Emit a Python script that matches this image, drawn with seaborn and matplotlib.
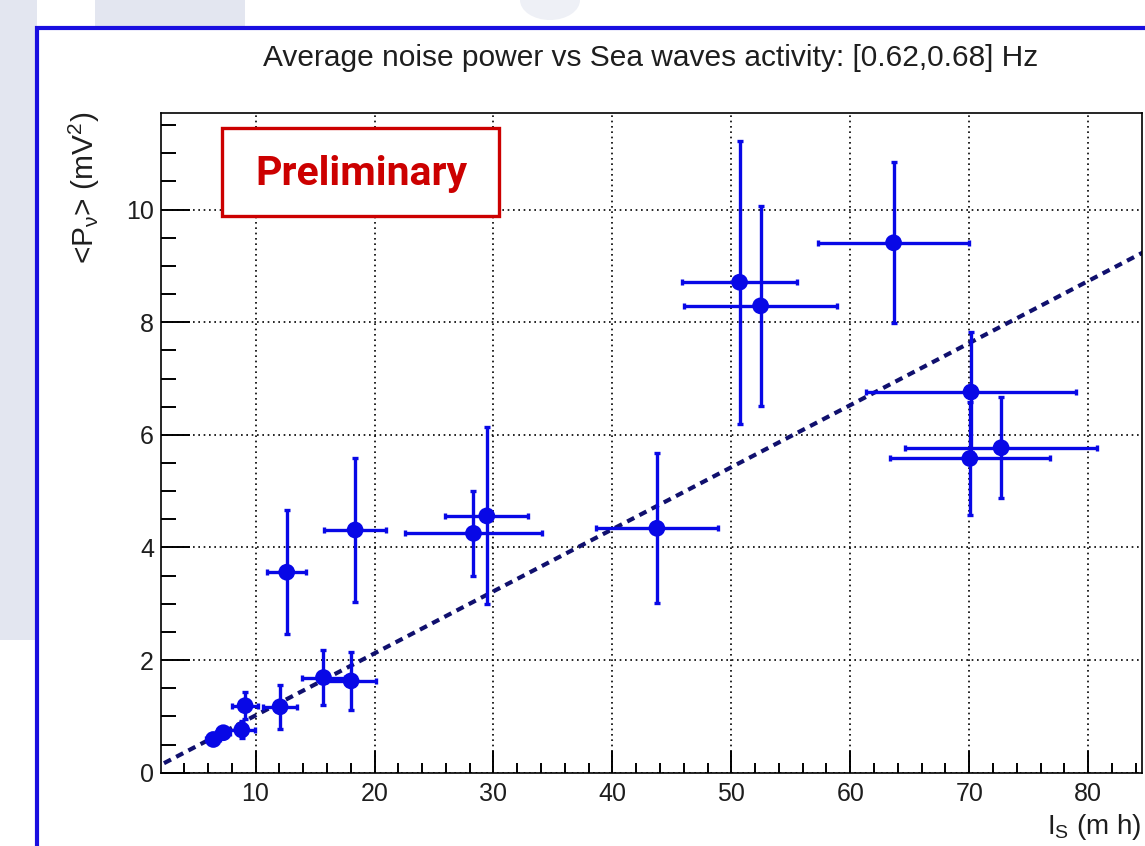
import numpy as np
import matplotlib
matplotlib.use('Agg')
import matplotlib.pyplot as plt
import seaborn as sns
from matplotlib.patches import Rectangle, Ellipse
from matplotlib.ticker import MultipleLocator

# ------------------------------------------------------------
# Data
# ------------------------------------------------------------
sea_activity = [6.45, 7.29, 8.84, 9.12, 12.06, 15.71, 18.03, 12.62, 18.37,
                28.32, 29.44, 43.74, 50.69, 52.46, 63.64, 70.15, 72.68, 70.05]
noise_power = [0.59, 0.71, 0.76, 1.19, 1.17, 1.69, 1.63, 3.56, 4.31,
               4.25, 4.56, 4.34, 8.71, 8.29, 9.41, 6.76, 5.77, 5.58]
sea_activity_err = [0.6, 0.6, 1.1, 1.12, 1.43, 1.83, 2.1, 1.65, 2.6,
                    5.72, 3.5, 5.1, 4.84, 6.45, 6.36, 8.8, 8.1, 6.7]
noise_power_err = [0.08, 0.1, 0.15, 0.24, 0.39, 0.49, 0.52, 1.1, 1.28,
                   0.75, 1.57, 1.33, 2.51, 1.78, 1.43, 1.07, 0.9, 1.0]

# linear fit shown as dashed line
fit_slope = 0.1102
fit_intercept = -0.085
fit_range = [2.3, 85.0]

title = 'Average noise power vs Sea waves activity: [0.62,0.68] Hz'

# ------------------------------------------------------------
# Style
# ------------------------------------------------------------
sns.set_theme(style='white')
plt.rcParams['font.family'] = ['Liberation Sans', 'DejaVu Sans']
plt.rcParams['mathtext.fontset'] = 'custom'
plt.rcParams['mathtext.rm'] = 'Liberation Sans'
plt.rcParams['mathtext.it'] = 'Liberation Sans'

W, H = 1145, 846
fig = plt.figure(figsize=(W / 100, H / 100), dpi=100)
fig.patch.set_facecolor('white')

# faded logo shapes behind the slide frame
wm = '#e3e6f0'
fig.add_artist(Rectangle((0, 1 - 640 / H), 37 / W, 640 / H, transform=fig.transFigure,
                         facecolor=wm, edgecolor='none', zorder=-3))
fig.add_artist(Rectangle((95 / W, 1 - 28 / H), 150 / W, 28 / H, transform=fig.transFigure,
                         facecolor=wm, edgecolor='none', zorder=-3))
fig.add_artist(Ellipse((550 / W, 1.0), 60 / W, 40 / H, transform=fig.transFigure,
                       facecolor='#eef0f6', edgecolor='none', zorder=-3))

# blue slide frame
fig.add_artist(Rectangle((37 / W, -0.05), 1.2, 1.05 - 28 / H, transform=fig.transFigure,
                         facecolor='white', edgecolor='#1a0fe0', linewidth=3.0, zorder=-2))

ax = fig.add_axes([161 / W, 1 - 772.7 / H, (1141.7 - 161) / W, (772.7 - 112.7) / H])
ax.set_facecolor('white')

# grid
ax.grid(True, which='major', color='black', linestyle=(0, (1, 2.2)), linewidth=1.2)
ax.set_axisbelow(True)

# fit line
fit_x = np.array(fit_range)
sns.lineplot(x=fit_x, y=fit_slope * fit_x + fit_intercept, ax=ax, color='#10106e',
             linewidth=3.0, dashes=False, zorder=2)
ax.lines[-1].set_dashes((1.9, 1.4))

# error bars and markers
ax.errorbar(sea_activity, noise_power, xerr=sea_activity_err, yerr=noise_power_err,
            fmt='none', ecolor='#0808e6', elinewidth=2.4, capsize=2.4, capthick=2.4, zorder=3)
sns.scatterplot(x=sea_activity, y=noise_power, ax=ax, color='#0808e6', s=145,
                edgecolor='none', zorder=4)

ax.set_xlim(2.05, 84.5)
ax.set_ylim(0, 11.72)
ax.xaxis.set_major_locator(MultipleLocator(10))
ax.xaxis.set_minor_locator(MultipleLocator(2))
ax.yaxis.set_major_locator(MultipleLocator(2))
ax.yaxis.set_minor_locator(MultipleLocator(0.5))

for s in ax.spines.values():
    s.set_color('black')
    s.set_linewidth(1.2)

ax.tick_params(axis='x', which='major', direction='in', length=16, width=1.4,
               color='black', labelsize=18, pad=7, bottom=True, top=False)
ax.tick_params(axis='x', which='minor', direction='in', length=7, width=1.4,
               color='black', bottom=True, top=False)
ax.tick_params(axis='y', which='major', direction='in', length=21, width=1.4,
               color='black', labelsize=18, pad=5, left=True, right=False)
ax.tick_params(axis='y', which='minor', direction='in', length=10.5, width=1.4,
               color='black', left=True, right=False)
for lab in ax.get_xticklabels() + ax.get_yticklabels():
    lab.set_color('#1e1e1e')

ax.set_xlabel('')
ax.set_ylabel('')

# title and axis titles
fig.text(651 / W, 1 - 58 / H, title, ha='center', va='center', fontsize=21.5, color='#1e1e1e')
fig.text(84 / W, 1 - 112 / H, r'<P$_{\mathregular{ν}}$> (mV$^{\mathregular{2}}$)', rotation=90,
         ha='center', va='top', fontsize=21.5, color='#1e1e1e')
fig.text(1142 / W, 1 - 827 / H, r'I$_{\mathregular{S}}$ (m h)', ha='right', va='center',
         fontsize=20, color='#1e1e1e')

# "Preliminary" box
fig.add_artist(Rectangle((222 / W, 1 - 216 / H), (499 - 222) / W, (216 - 128) / H,
                         transform=fig.transFigure, facecolor='white', edgecolor='#cc0000',
                         linewidth=2.4, zorder=5))
fig.text(361 / W, 1 - 185 / H, 'Preliminary', ha='center', va='baseline', fontsize=29.5,
         fontweight='bold', color='#cc0000', family=['Roboto', 'DejaVu Sans'], zorder=6)

fig.savefig('out.png', dpi=100)
